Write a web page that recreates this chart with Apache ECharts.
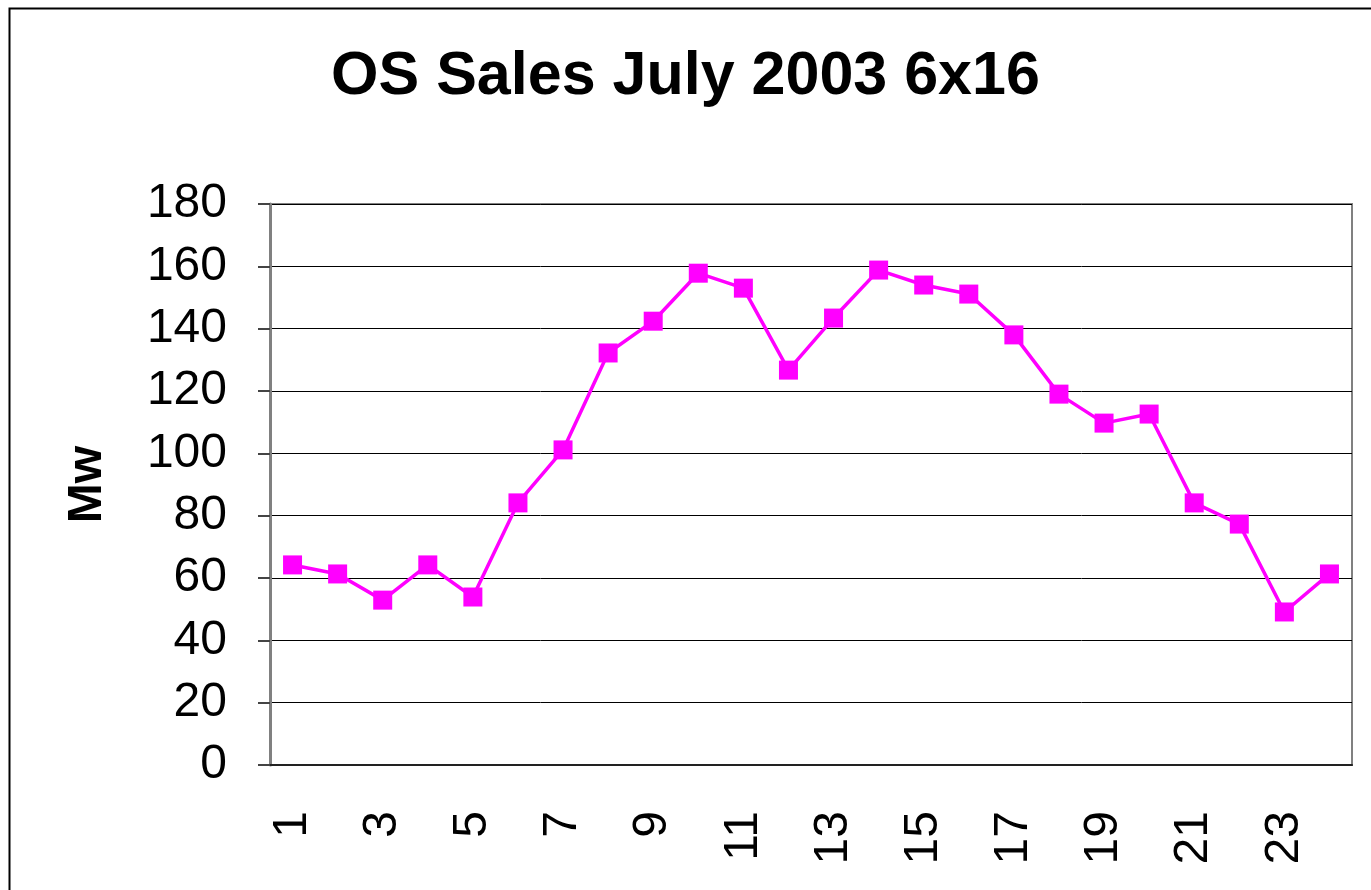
<!DOCTYPE html>
<html>
<head>
    <meta charset="utf-8">
    <title>OS Sales July 2003 6x16</title>
    <script src="https://cdn.jsdelivr.net/npm/echarts@6/dist/echarts.min.js"></script>
    <style>
        html, body { margin: 0; padding: 0; background: #fff; }
        #chart1 { width: 1371px; height: 890px; }
    </style>
</head>
<body>
<div id="chart1"></div>
<script type="text/javascript">
    // hours of the day
    const hours = ['1', '2', '3', '4', '5', '6', '7', '8', '9', '10', '11', '12',
        '13', '14', '15', '16', '17', '18', '19', '20', '21', '22', '23', '24'];
    // sales in Mw
    const salesMw = [64.2, 61.3, 52.9, 64.2, 53.9, 84.1, 101.1, 132.2, 142.4, 157.8, 153.0, 126.7,
        143.4, 158.8, 154.0, 151.1, 138.0, 119.0, 109.7, 112.6, 84.1, 77.3, 49.1, 61.3];
    const yMin = 0, yMax = 180, yStep = 20;

    let myChart1 = echarts.init(document.getElementById('chart1'));
    const font = 'Liberation Sans, Arial, sans-serif';

    myChart1.setOption({
        animation: false,
        title: {
            text: 'OS Sales July 2003 6x16',
            left: 'center',
            top: 42,
            textStyle: { fontFamily: font, fontSize: 61, fontWeight: 'bold', color: '#000' }
        },
        // outer chart frame
        graphic: [{
            type: 'rect',
            left: 7, top: 6,
            shape: { width: 1380, height: 900 },
            style: { fill: 'none', stroke: '#000', lineWidth: 2 },
            silent: true
        }],
        grid: {
            left: 270, right: 19, top: 204, bottom: 125,
            show: true, borderColor: '#808080', borderWidth: 2
        },
        xAxis: {
            type: 'category',
            data: hours,
            boundaryGap: true,
            axisLine: { lineStyle: { color: '#222', width: 2 } },
            axisTick: { interval: 0, length: 15, lineStyle: { color: '#444', width: 2 } },
            axisLabel: {
                interval: 1, rotate: 90, margin: 46,
                fontFamily: font, fontSize: 48, color: '#000'
            },
            splitLine: { show: false }
        },
        yAxis: {
            type: 'value',
            min: yMin, max: yMax, interval: yStep,
            name: 'Mw',
            nameLocation: 'middle',
            nameGap: 158,
            nameRotate: 90,
            nameTextStyle: { fontFamily: font, fontSize: 48, fontWeight: 'bold', color: '#000' },
            axisLine: { show: true, lineStyle: { color: '#808080', width: 3 } },
            axisTick: { show: true, length: 12, lineStyle: { color: '#444', width: 2 } },
            axisLabel: { margin: 43, fontFamily: font, fontSize: 48, color: '#000' },
            splitLine: { lineStyle: { color: '#000', width: 1 } }
        },
        series: [{
            name: 'OS Sales',
            type: 'line',
            data: salesMw,
            symbol: 'rect',
            symbolSize: 19,
            lineStyle: { color: '#FF00FF', width: 3.5 },
            itemStyle: { color: '#FF00FF' }
        }]
    });
</script>
</body>
</html>
